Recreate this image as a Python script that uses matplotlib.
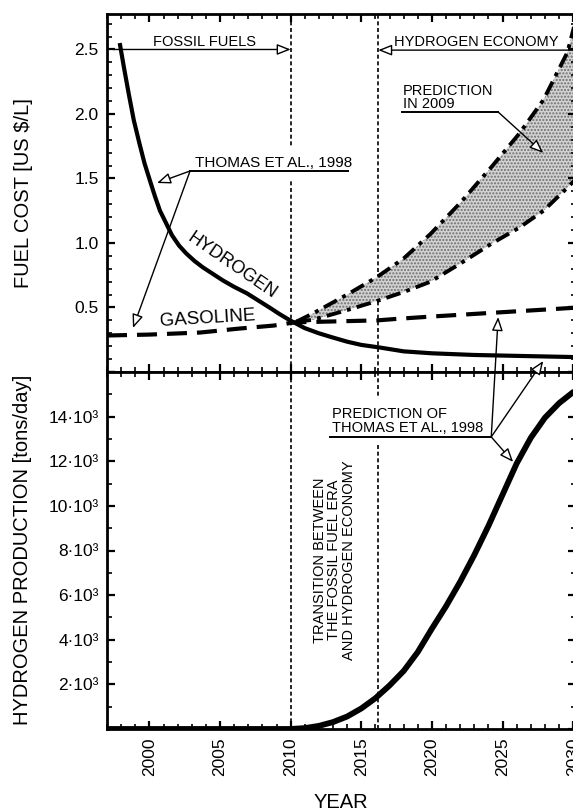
import matplotlib
matplotlib.use("Agg")
import matplotlib.pyplot as plt
from matplotlib.ticker import MultipleLocator, FuncFormatter

plt.rcParams['font.family'] = ['Liberation Sans', 'DejaVu Sans']
plt.rcParams['hatch.linewidth'] = 1.0

# ---------------- data ----------------
h2_years = [1997.9, 1998.2, 1998.55, 1998.9, 1999.3, 1999.65, 2000.05, 2000.4, 2000.75,
            2001.2, 2001.6, 2002.1, 2002.6, 2003.2, 2003.8, 2004.5, 2005.2, 2006.0,
            2006.9, 2007.7, 2008.5, 2009.2, 2009.96, 2011.0, 2012.0, 2012.9, 2014.0,
            2015.0, 2016.3, 2018.0, 2020.0, 2023.0, 2026.0, 2030.4]
h2_cost = [2.55, 2.36, 2.15, 1.95, 1.77, 1.62, 1.48, 1.36, 1.25,
           1.15, 1.06, 0.98, 0.92, 0.86, 0.81, 0.76, 0.71, 0.66,
           0.61, 0.555, 0.50, 0.45, 0.40, 0.34, 0.30, 0.27, 0.235,
           0.21, 0.19, 0.16, 0.145, 0.132, 0.125, 0.115]

gas_years = [1997.0, 2000.0, 2003.6, 2006.4, 2008.8, 2010.3, 2012.3, 2016.1, 2017.8, 2020.0,
             2024.6, 2030.4]
gas_cost = [0.283, 0.29, 0.306, 0.337, 0.36, 0.385, 0.39, 0.40, 0.414, 0.43, 0.461, 0.50]

pred_years = [2010.4, 2011.6, 2014.0, 2016.1, 2018.0, 2019.9, 2022.0, 2024.3, 2026.2,
              2027.9, 2029.6, 2030.4]
pred_upper = [0.39, 0.455, 0.60, 0.735, 0.88, 1.07, 1.31, 1.60, 1.85, 2.11, 2.48, 2.82]
pred_lower = [0.39, 0.405, 0.48, 0.55, 0.62, 0.70, 0.84, 1.00, 1.12, 1.25, 1.43, 1.52]

prod_years = [1997.0, 2010.0, 2011.0, 2012.0, 2013.0, 2014.0, 2015.0, 2016.0, 2017.0,
              2018.0, 2019.0, 2020.0, 2021.0, 2022.0, 2023.0, 2024.0, 2025.0, 2026.0,
              2027.0, 2028.0, 2029.0, 2030.0, 2030.4]
prod_tons = [0, 0, 40, 140, 310, 560, 920, 1380, 1950,
             2600, 3450, 4500, 5500, 6600, 7800, 9100, 10500, 11900,
             13050, 13950, 14600, 15100, 15250]

transition_years = [2010.0, 2016.2]

cost_ticks = [0.5, 1.0, 1.5, 2.0, 2.5]
prod_ticks = [2000, 4000, 6000, 8000, 10000, 12000, 14000]
year_ticks = [2000, 2005, 2010, 2015, 2020, 2025, 2030]

# ---------------- figure ----------------
W, H = 573, 811
fig = plt.figure(figsize=(W / 100, H / 100), dpi=100)
left_px, right_px = 107, 576
top_px, mid_px, bot_px = 14, 372, 729
ax1 = fig.add_axes([left_px / W, 1 - mid_px / H, (right_px - left_px) / W, (mid_px - top_px) / H])
ax2 = fig.add_axes([left_px / W, 1 - bot_px / H, (right_px - left_px) / W, (bot_px - mid_px) / H])

XLIM = (1997.0, 2030.2)
for ax in (ax1, ax2):
    ax.set_xlim(*XLIM)
    for s in ax.spines.values():
        s.set_linewidth(2.0)
    ax.xaxis.set_major_locator(MultipleLocator(5))
    ax.xaxis.set_minor_locator(MultipleLocator(1))
    ax.tick_params(which='both', direction='in', top=True, right=True, colors='black')
    ax.tick_params(which='major', length=6, width=1.6, labelsize=12.5, pad=6)
    ax.tick_params(which='minor', length=3.5, width=1.2)

ax1.set_ylim(0, 2.775)
ax1.yaxis.set_major_locator(MultipleLocator(0.5))
ax1.yaxis.set_minor_locator(MultipleLocator(0.1))
ax1.yaxis.set_major_formatter(FuncFormatter(lambda v, p: f"{v:.1f}" if any(abs(v - t) < 1e-6 for t in cost_ticks) else ""))
ax1.tick_params(axis='x', labelbottom=False)

ax2.set_ylim(0, 16000)
ax2.yaxis.set_major_locator(MultipleLocator(2000))
ax2.yaxis.set_minor_locator(MultipleLocator(1000))
ax2.yaxis.set_major_formatter(FuncFormatter(lambda v, p: f"{int(round(v / 1000))}\u00b710\u00b3" if int(round(v)) in prod_ticks else ""))
ax2.set_xticks(year_ticks)
ax2.set_xticklabels([str(y) for y in year_ticks], rotation=90)
ax2.tick_params(axis='x', pad=6)

# vertical transition lines
for ax in (ax1, ax2):
    for yr in transition_years:
        ax.axvline(yr, color='black', lw=1.2, dashes=(2.4, 1.6), zorder=1)

# ---------------- top panel curves ----------------
ax1.fill_between(pred_years, pred_lower, pred_upper, facecolor='#d2d2d2', edgecolor='#6e6e6e',
                 hatch='.....', lw=0, zorder=1.5)
ax1.plot(pred_years, pred_upper, color='black', lw=2.8, dashes=(3.8, 1.6, 1.0, 1.6),
         dash_capstyle='butt', zorder=3)
ax1.plot(pred_years, pred_lower, color='black', lw=2.8, dashes=(3.8, 1.6, 1.0, 1.6),
         dash_capstyle='butt', zorder=3)
ax1.plot(gas_years, gas_cost, color='black', lw=3.0, dashes=(4.8, 2.4),
         dash_capstyle='butt', zorder=3)
ax1.plot(h2_years, h2_cost, color='black', lw=3.0, solid_capstyle='butt',
         solid_joinstyle='round', zorder=4)

# ---------------- bottom panel curve ----------------
ax2.plot(prod_years, prod_tons, color='black', lw=4.2, solid_capstyle='butt',
         solid_joinstyle='round', zorder=4)

# ---------------- annotations ----------------
arrow_kw = dict(arrowstyle='-|>,head_length=0.55,head_width=0.22', fc='white', ec='black',
                lw=1.0, mutation_scale=15, shrinkA=0, shrinkB=0)
afs = 10.5

# FOSSIL FUELS
ax1.annotate('', xy=(2010.0, 2.50), xytext=(1997.45, 2.50), arrowprops=arrow_kw, zorder=6)
ax1.text(2003.87, 2.525, 'FOSSIL FUELS', fontsize=afs, ha='center', va='baseline', zorder=6)

# HYDROGEN ECONOMY
ax1.annotate('', xy=(2016.2, 2.495), xytext=(2030.4, 2.495), arrowprops=arrow_kw,
             annotation_clip=False, zorder=6)
ax1.text(2023.13, 2.525, 'HYDROGEN ECONOMY', fontsize=afs, ha='center', va='baseline', zorder=6)

# THOMAS ET AL. 1998 (cost)
ax1.text(2003.23, 1.589, 'THOMAS ET AL., 1998', fontsize=11, ha='left', va='baseline', zorder=3,
         bbox=dict(boxstyle='square,pad=0.65', fc='white', ec='none'))
ax1.plot([2002.88, 2014.07], [1.558, 1.558], color='black', lw=1.4, zorder=6)
ax1.annotate('', xy=(2000.54, 1.465), xytext=(2002.88, 1.558), arrowprops=arrow_kw, zorder=6)
ax1.annotate('', xy=(1998.84, 0.341), xytext=(2002.88, 1.558), arrowprops=arrow_kw, zorder=6)

# PREDICTION IN 2009
ax1.text(2017.96, 2.02, 'PREDICTION\nIN 2009', fontsize=afs, ha='left', va='bottom',
         linespacing=0.95, zorder=6)
ax1.plot([2017.89, 2024.69], [2.0155, 2.0155], color='black', lw=1.4, zorder=6)
ax1.annotate('', xy=(2027.88, 1.698), xytext=(2024.69, 2.0155), arrowprops=arrow_kw, zorder=6)

# curve labels
ax1.text(2005.82, 0.82, 'HYDROGEN', fontsize=13, rotation=-34.5, rotation_mode='anchor',
         ha='center', va='center', zorder=6)
ax1.text(2004.12, 0.415, 'GASOLINE', fontsize=13.5, rotation=3.5, rotation_mode='anchor',
         ha='center', va='center', zorder=6)

# PREDICTION OF THOMAS ET AL. 1998 (bottom)
ax2.text(2012.93, 13180, 'PREDICTION OF\nTHOMAS ET AL., 1998', fontsize=afs, ha='left',
         va='bottom', linespacing=0.95, zorder=3,
         bbox=dict(boxstyle='square,pad=0.7', fc='white', ec='none'))
ax2.plot([2012.79, 2024.2], [13090, 13090], color='black', lw=1.4, zorder=6)
ax2.annotate('', xy=(2025.75, 11970), xytext=(2024.2, 13090), arrowprops=arrow_kw, zorder=6)
ax2.annotate('', xy=(2024.69, 0.426), xycoords=ax1.transData, xytext=(2024.2, 13090),
             textcoords='data', arrowprops=arrow_kw, annotation_clip=False, zorder=6)
ax2.annotate('', xy=(2027.88, 0.085), xycoords=ax1.transData, xytext=(2024.2, 13090),
             textcoords='data', arrowprops=arrow_kw, annotation_clip=False, zorder=6)

# transition text
ax2.text(2013.08, 7575, 'TRANSITION BETWEEN\nTHE FOSSIL FUEL ERA\nAND HYDROGEN ECONOMY',
         fontsize=afs, rotation=90, ha='center', va='center', multialignment='center',
         linespacing=1.05, zorder=6)

# axis labels
fig.text(24 / W, 1 - 193 / H, 'FUEL COST [US $/L]', fontsize=14.5, rotation=90,
         ha='center', va='center')
fig.text(23 / W, 1 - 550 / H, 'HYDROGEN PRODUCTION [tons/day]', fontsize=14.5, rotation=90,
         ha='center', va='center')
fig.text(341 / W, 1 - 803 / H, 'YEAR', fontsize=14.5, ha='center', va='center')

fig.savefig('out.png', dpi=100)
